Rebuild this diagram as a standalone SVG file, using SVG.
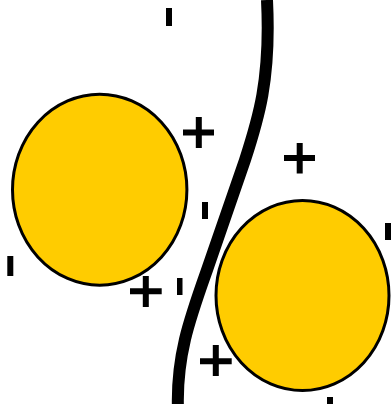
<svg xmlns="http://www.w3.org/2000/svg" width="391" height="404" viewBox="0 0 391 404">
<style>
.ell{fill:#ffcc00;stroke:#000;stroke-width:3}
.plus{stroke:#000;stroke-width:6;fill:none}
.bar{fill:#000}
</style>
<rect width="391" height="404" fill="#fff"/>
<g id="connectors">
<path d="M267,0 C271,80 258,120 245,160 L207,270 C190,318 176,356 178,410" fill="none" stroke="#000" stroke-width="12"/>
</g>
<g id="left-ellipse"><ellipse class="ell" cx="99.7" cy="189.7" rx="87.2" ry="95.5"/></g>
<g id="right-ellipse"><ellipse class="ell" cx="302.5" cy="295.5" rx="86.5" ry="95"/></g>
<g id="signs">
<path class="plus" d="M183,132.5 H214 M198.8,117 V148"/>
<path class="plus" d="M284,158 H315 M299.7,143 V173.5"/>
<path class="plus" d="M130,291.3 H161.7 M145.8,276 V307"/>
<path class="plus" d="M200,361.3 H231.7 M215.8,345 V376"/>
<rect class="bar" x="166" y="8" width="6" height="18"/>
<rect class="bar" x="202" y="202" width="6" height="17"/>
<rect class="bar" x="177" y="278" width="5.5" height="17"/>
<rect class="bar" x="7.3" y="256" width="6" height="20"/>
<rect class="bar" x="385" y="223" width="6" height="17"/>
<rect class="bar" x="327" y="397" width="6" height="10"/>
</g>
</svg>
